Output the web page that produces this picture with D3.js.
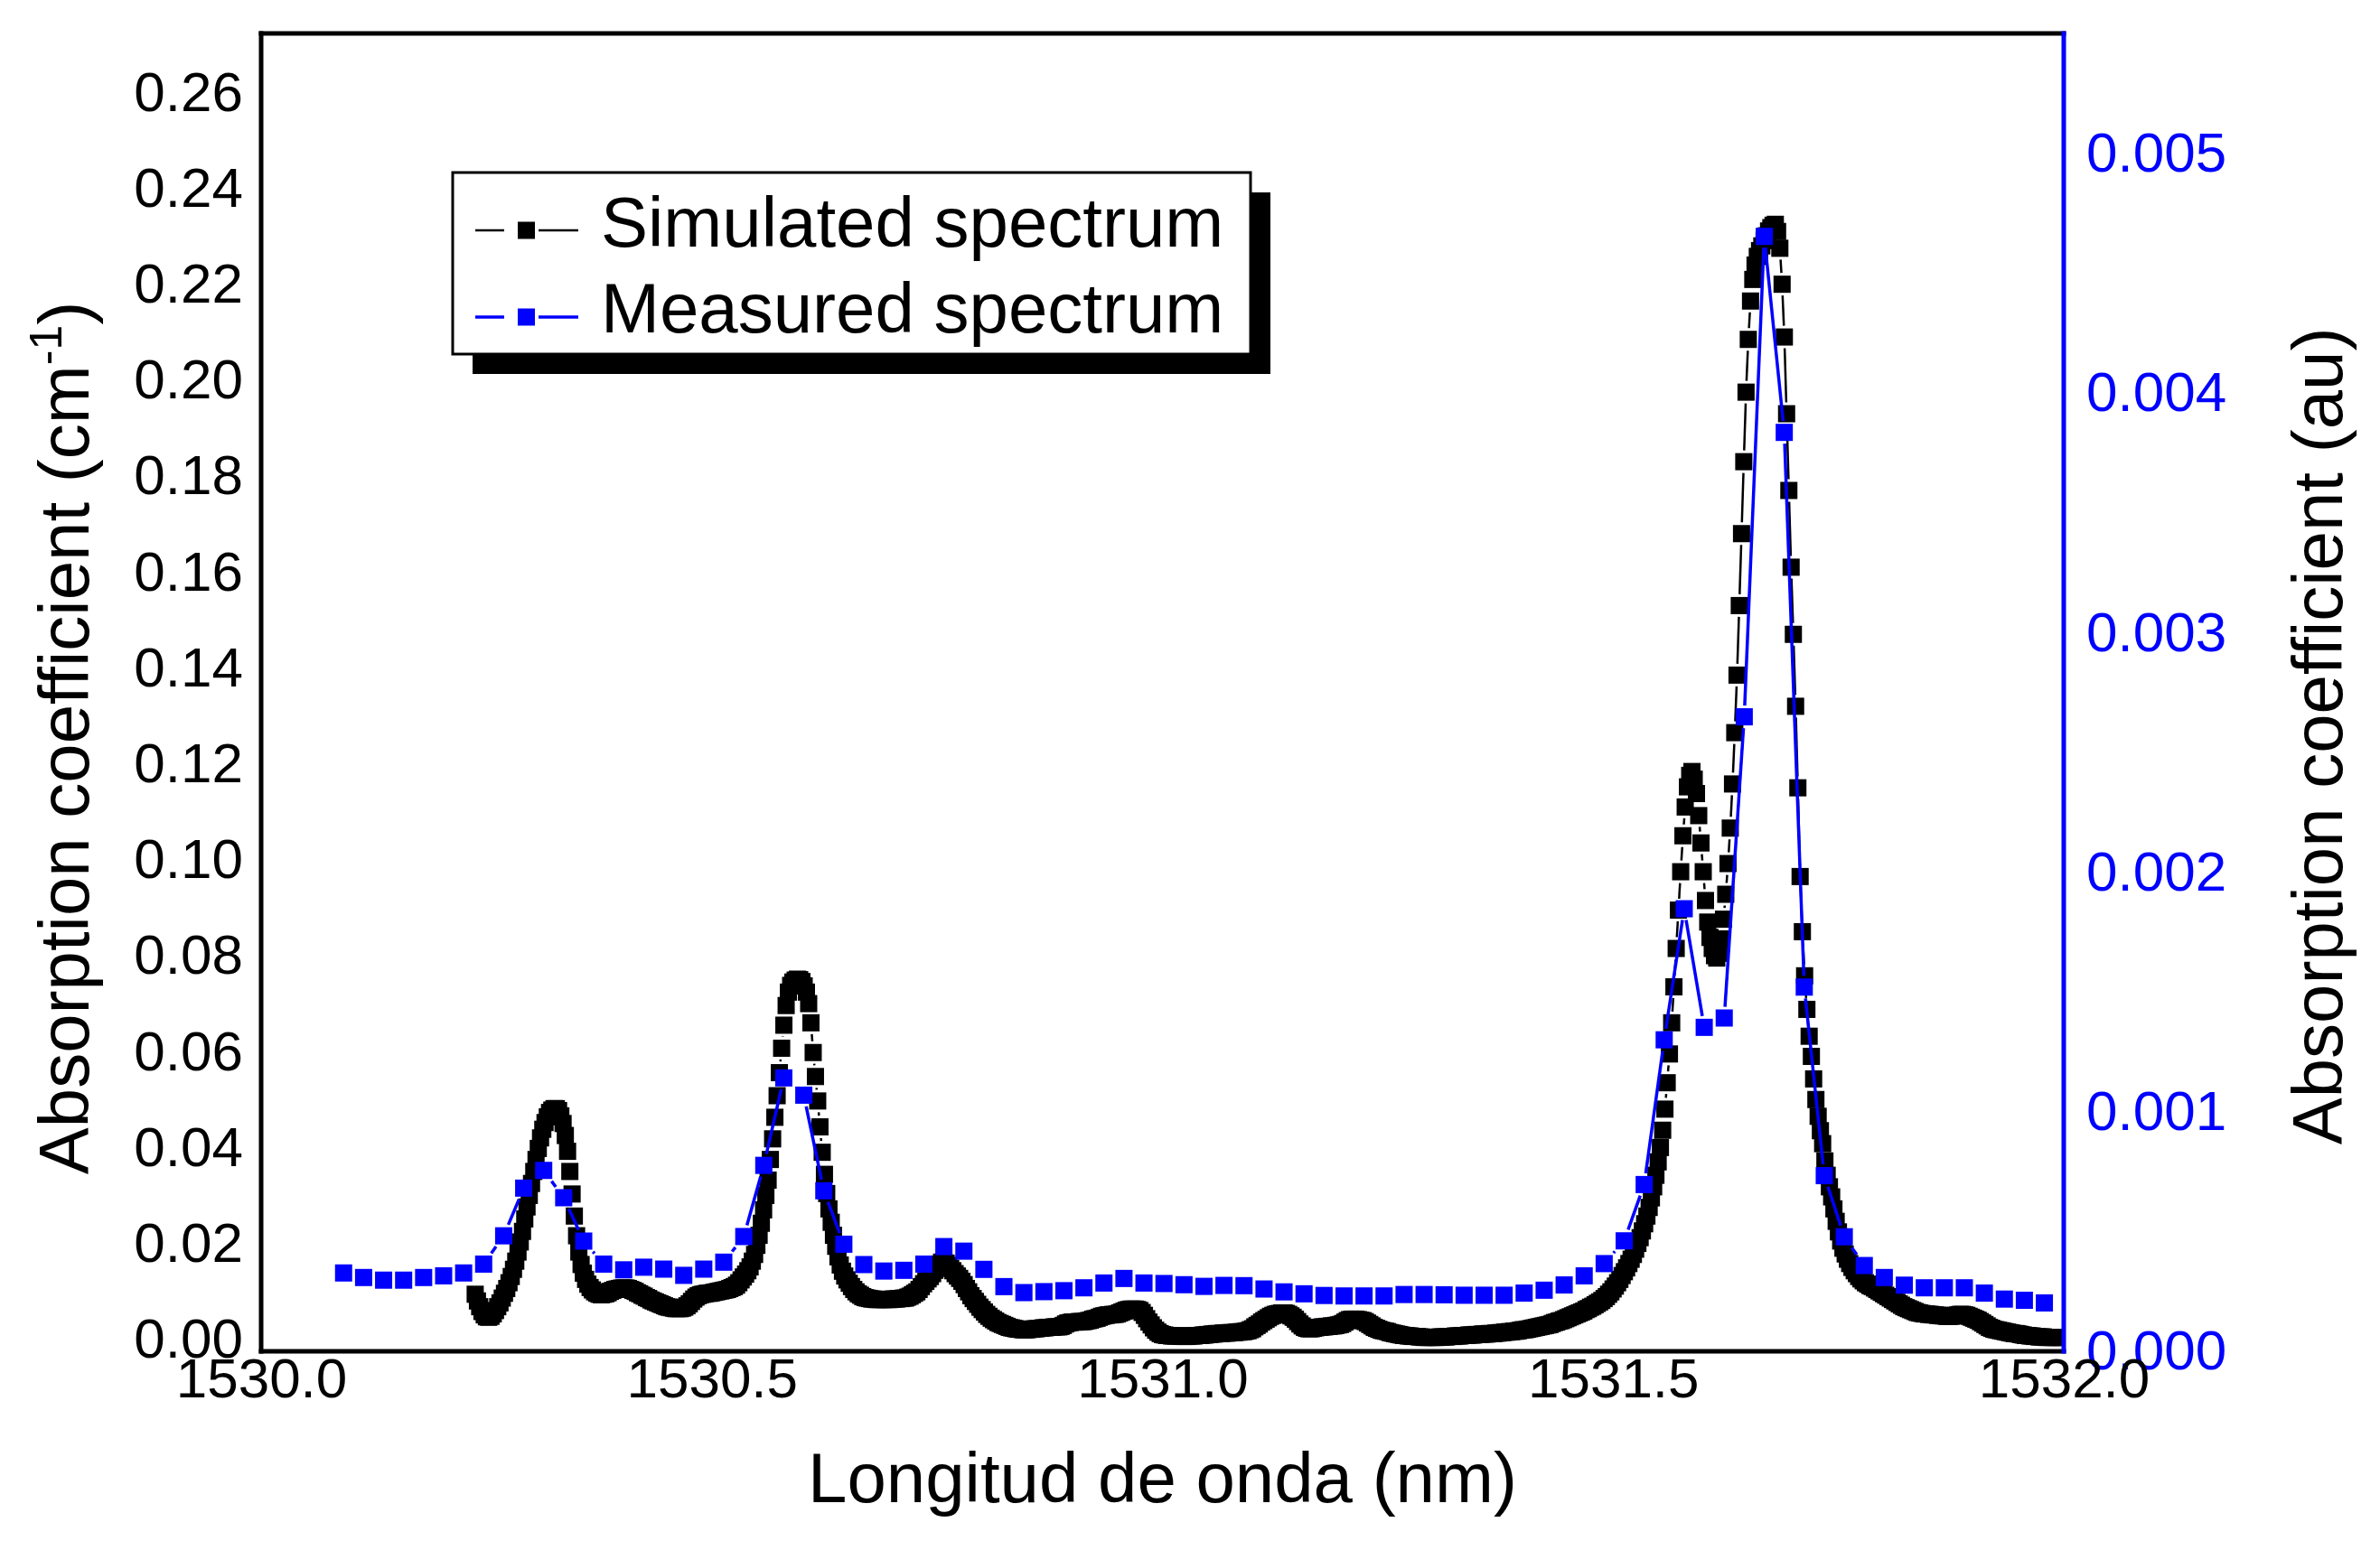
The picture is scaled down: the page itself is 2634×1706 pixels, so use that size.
<!DOCTYPE html>
<html>
<head>
<meta charset="utf-8">
<script src="https://cdn.jsdelivr.net/npm/d3@7"></script>
<style>
  body { margin: 0; background: #fff; }
  text { font-family: "Liberation Sans", Arial, sans-serif; }
</style>
</head>
<body>
<svg id="chart"></svg>
<script>
// Tick labels
const leftTicks = [0, 0.02, 0.04, 0.06, 0.08, 0.10, 0.12, 0.14, 0.16, 0.18, 0.20, 0.22, 0.24, 0.26];
const rightTicks = [0, 0.001, 0.002, 0.003, 0.004, 0.005];
const bottomTicks = [1530.0, 1530.5, 1531.0, 1531.5, 1532.0];

// Simulated spectrum (cm-1), sampled every 0.0025 nm from 1530.2375 nm
const simStart = 1530.2375;
const simStep = 0.0025;
const simValues = [
  0.0094, 0.0080, 0.0068, 0.0058, 0.0051, 0.0047, 0.0046, 0.0048, 0.0053, 0.0060,
  0.0068, 0.0076, 0.0086, 0.0096, 0.0106, 0.0118, 0.0131, 0.0146, 0.0163, 0.0182,
  0.0203, 0.0225, 0.0251, 0.0276, 0.0300, 0.0325, 0.0350, 0.0375, 0.0398, 0.0420,
  0.0438, 0.0452, 0.0464, 0.0473, 0.0478, 0.0481, 0.0481, 0.0477, 0.0466, 0.0450,
  0.0425, 0.0392, 0.0350, 0.0303, 0.0257, 0.0216, 0.0182, 0.0156, 0.0138, 0.0125,
  0.0115, 0.0108, 0.0103, 0.0099, 0.0096, 0.0094, 0.0093, 0.0094, 0.0095, 0.0097,
  0.0100, 0.0102, 0.0104, 0.0105, 0.0106, 0.0107, 0.0107, 0.0107, 0.0106, 0.0104,
  0.0102, 0.0100, 0.0097, 0.0095, 0.0092, 0.0090, 0.0087, 0.0085, 0.0082, 0.0080,
  0.0078, 0.0076, 0.0074, 0.0072, 0.0070, 0.0068, 0.0067, 0.0066, 0.0065, 0.0064,
  0.0064, 0.0064, 0.0065, 0.0067, 0.0070, 0.0074, 0.0079, 0.0084, 0.0088, 0.0091,
  0.0093, 0.0094, 0.0095, 0.0096, 0.0096, 0.0097, 0.0098, 0.0099, 0.0100, 0.0101,
  0.0102, 0.0103, 0.0104, 0.0106, 0.0108, 0.0110, 0.0113, 0.0118, 0.0124, 0.0130,
  0.0136, 0.0143, 0.0151, 0.0163, 0.0177, 0.0196, 0.0217, 0.0242, 0.0270, 0.0300,
  0.0332, 0.0375, 0.0418, 0.0463, 0.0508, 0.0556, 0.0607, 0.0655, 0.0696, 0.0724,
  0.0738, 0.0745, 0.0749, 0.0751, 0.0750, 0.0746, 0.0737, 0.0724, 0.0700, 0.0660,
  0.0598, 0.0548, 0.0497, 0.0443, 0.0390, 0.0344, 0.0304, 0.0272, 0.0244, 0.0217,
  0.0194, 0.0172, 0.0155, 0.0142, 0.0132, 0.0124, 0.0117, 0.0110, 0.0104, 0.0099,
  0.0095, 0.0092, 0.0089, 0.0087, 0.0086, 0.0085, 0.0084, 0.0084, 0.0083, 0.0083,
  0.0083, 0.0083, 0.0083, 0.0083, 0.0083, 0.0084, 0.0084, 0.0084, 0.0085, 0.0085,
  0.0086, 0.0086, 0.0088, 0.0090, 0.0093, 0.0096, 0.0099, 0.0104, 0.0110, 0.0116,
  0.0121, 0.0126, 0.0131, 0.0137, 0.0144, 0.0151, 0.0157, 0.0161, 0.0162, 0.0159,
  0.0154, 0.0148, 0.0143, 0.0137, 0.0132, 0.0127, 0.0121, 0.0114, 0.0106, 0.0099,
  0.0091, 0.0085, 0.0079, 0.0073, 0.0067, 0.0062, 0.0057, 0.0052, 0.0048, 0.0044,
  0.0041, 0.0038, 0.0035, 0.0033, 0.0031, 0.0029, 0.0027, 0.0025, 0.0024, 0.0023,
  0.0022, 0.0021, 0.0021, 0.0020, 0.0020, 0.0020, 0.0021, 0.0021, 0.0022, 0.0022,
  0.0023, 0.0023, 0.0024, 0.0024, 0.0025, 0.0025, 0.0025, 0.0026, 0.0026, 0.0026,
  0.0027, 0.0029, 0.0032, 0.0034, 0.0035, 0.0036, 0.0036, 0.0036, 0.0037, 0.0037,
  0.0037, 0.0038, 0.0039, 0.0040, 0.0042, 0.0043, 0.0044, 0.0046, 0.0048, 0.0049,
  0.0050, 0.0051, 0.0051, 0.0052, 0.0052, 0.0053, 0.0055, 0.0057, 0.0059, 0.0061,
  0.0062, 0.0063, 0.0063, 0.0063, 0.0062, 0.0060, 0.0056, 0.0050, 0.0043, 0.0036,
  0.0030, 0.0024, 0.0019, 0.0015, 0.0012, 0.0010, 0.0009, 0.0008, 0.0008, 0.0007,
  0.0007, 0.0007, 0.0007, 0.0007, 0.0006, 0.0006, 0.0006, 0.0007, 0.0007, 0.0007,
  0.0008, 0.0008, 0.0008, 0.0009, 0.0009, 0.0010, 0.0010, 0.0011, 0.0011, 0.0012,
  0.0012, 0.0012, 0.0013, 0.0013, 0.0013, 0.0014, 0.0014, 0.0014, 0.0015, 0.0015,
  0.0016, 0.0016, 0.0017, 0.0018, 0.0020, 0.0022, 0.0026, 0.0029, 0.0032, 0.0036,
  0.0039, 0.0042, 0.0045, 0.0048, 0.0050, 0.0052, 0.0053, 0.0054, 0.0055, 0.0055,
  0.0054, 0.0052, 0.0049, 0.0046, 0.0042, 0.0037, 0.0032, 0.0028, 0.0025, 0.0023,
  0.0022, 0.0022, 0.0023, 0.0024, 0.0025, 0.0025, 0.0026, 0.0026, 0.0027, 0.0027,
  0.0028, 0.0028, 0.0029, 0.0030, 0.0031, 0.0033, 0.0036, 0.0039, 0.0041, 0.0042,
  0.0042, 0.0042, 0.0041, 0.0040, 0.0039, 0.0037, 0.0034, 0.0031, 0.0028, 0.0025,
  0.0023, 0.0021, 0.0019, 0.0018, 0.0017, 0.0016, 0.0014, 0.0013, 0.0012, 0.0011,
  0.0010, 0.0009, 0.0008, 0.0008, 0.0007, 0.0007, 0.0006, 0.0006, 0.0006, 0.0005,
  0.0005, 0.0004, 0.0004, 0.0004, 0.0004, 0.0004, 0.0004, 0.0004, 0.0005, 0.0005,
  0.0005, 0.0005, 0.0006, 0.0006, 0.0006, 0.0007, 0.0007, 0.0007, 0.0008, 0.0008,
  0.0008, 0.0009, 0.0009, 0.0009, 0.0010, 0.0010, 0.0010, 0.0011, 0.0011, 0.0011,
  0.0012, 0.0012, 0.0012, 0.0013, 0.0013, 0.0014, 0.0014, 0.0015, 0.0015, 0.0016,
  0.0016, 0.0017, 0.0017, 0.0018, 0.0019, 0.0020, 0.0020, 0.0021, 0.0022, 0.0023,
  0.0024, 0.0025, 0.0026, 0.0027, 0.0028, 0.0029, 0.0030, 0.0031, 0.0033, 0.0035,
  0.0036, 0.0038, 0.0039, 0.0041, 0.0043, 0.0045, 0.0047, 0.0049, 0.0051, 0.0053,
  0.0055, 0.0057, 0.0059, 0.0062, 0.0064, 0.0067, 0.0069, 0.0072, 0.0075, 0.0078,
  0.0081, 0.0085, 0.0089, 0.0094, 0.0099, 0.0105, 0.0111, 0.0118, 0.0125, 0.0133,
  0.0141, 0.0149, 0.0158, 0.0167, 0.0177, 0.0188, 0.0200, 0.0212, 0.0226, 0.0241,
  0.0257, 0.0275, 0.0295, 0.0318, 0.0342, 0.0370, 0.0400, 0.0436, 0.0480, 0.0535,
  0.0595, 0.0660, 0.0735, 0.0815, 0.0895, 0.0975, 0.1050, 0.1110, 0.1152, 0.1176,
  0.1184, 0.1168, 0.1138, 0.1092, 0.1035, 0.0975, 0.0915, 0.0870, 0.0838, 0.0815,
  0.0800, 0.0795, 0.0805, 0.0835, 0.0876, 0.0928, 0.0992, 0.1066, 0.1158, 0.1265,
  0.1385, 0.1530, 0.1680, 0.1830, 0.1975, 0.2085, 0.2165, 0.2210, 0.2240, 0.2258,
  0.2270, 0.2280, 0.2291, 0.2301, 0.2311, 0.2318, 0.2323, 0.2325, 0.2310, 0.2275,
  0.2200, 0.2090, 0.1930, 0.1770, 0.1610, 0.1470, 0.1320, 0.1150, 0.0965, 0.0850,
  0.0758, 0.0688, 0.0632, 0.0590, 0.0543, 0.0500, 0.0465, 0.0435, 0.0408, 0.0372,
  0.0342, 0.0318, 0.0297, 0.0272, 0.0246, 0.0224, 0.0205, 0.0190, 0.0178, 0.0167,
  0.0158, 0.0150, 0.0143, 0.0137, 0.0131, 0.0126, 0.0122, 0.0118, 0.0115, 0.0112,
  0.0110, 0.0107, 0.0104, 0.0101, 0.0098, 0.0095, 0.0092, 0.0089, 0.0086, 0.0083,
  0.0080, 0.0077, 0.0074, 0.0071, 0.0068, 0.0066, 0.0064, 0.0062, 0.0060, 0.0058,
  0.0056, 0.0055, 0.0054, 0.0053, 0.0053, 0.0052, 0.0052, 0.0051, 0.0051, 0.0050,
  0.0050, 0.0049, 0.0049, 0.0048, 0.0048, 0.0048, 0.0049, 0.0050, 0.0051, 0.0052,
  0.0052, 0.0051, 0.0050, 0.0048, 0.0046, 0.0044, 0.0042, 0.0040, 0.0037, 0.0034,
  0.0031, 0.0028, 0.0025, 0.0023, 0.0021, 0.0020, 0.0019, 0.0018, 0.0017, 0.0016,
  0.0015, 0.0014, 0.0013, 0.0012, 0.0012, 0.0011, 0.0010, 0.0009, 0.0008, 0.0008,
  0.0007, 0.0007, 0.0006, 0.0006, 0.0005, 0.0005, 0.0005, 0.0004, 0.0004, 0.0004,
  0.0004, 0.0004, 0.0004, 0.0004, 0.0004, 0.0004
];

// Measured spectrum (au)
const measuredWl = [
  1530.0915, 1530.1137, 1530.1359, 1530.1581, 1530.1803, 1530.2025, 1530.2247, 1530.2469, 1530.2691, 1530.2913,
  1530.3135, 1530.3357, 1530.3579, 1530.3801, 1530.4023, 1530.4245, 1530.4467, 1530.4689, 1530.4911, 1530.5133,
  1530.5355, 1530.5577, 1530.5799, 1530.6021, 1530.6243, 1530.6465, 1530.6687, 1530.6909, 1530.7131, 1530.7353,
  1530.7575, 1530.7797, 1530.8019, 1530.8241, 1530.8463, 1530.8685, 1530.8907, 1530.9129, 1530.9351, 1530.9573,
  1530.9795, 1531.0017, 1531.0239, 1531.0461, 1531.0683, 1531.0905, 1531.1127, 1531.1349, 1531.1571, 1531.1793,
  1531.2015, 1531.2237, 1531.2459, 1531.2681, 1531.2903, 1531.3125, 1531.3347, 1531.3569, 1531.3791, 1531.4013,
  1531.4235, 1531.4457, 1531.4679, 1531.4901, 1531.5123, 1531.5345, 1531.5567, 1531.5789, 1531.6011, 1531.6233,
  1531.6455, 1531.6677, 1531.6899, 1531.7121, 1531.7343, 1531.7565, 1531.7787, 1531.8009, 1531.8231, 1531.8453,
  1531.8675, 1531.8897, 1531.9119, 1531.9341, 1531.9563, 1531.9785
];
const measuredValues = [
  0.000327, 0.000308, 0.000297, 0.000297, 0.000308, 0.000315, 0.000327, 0.000364, 0.000482, 0.000681,
  0.000755, 0.000641, 0.000460, 0.000364, 0.000340, 0.000351, 0.000343, 0.000317, 0.000343, 0.000372,
  0.000479, 0.000776, 0.001141, 0.001069, 0.000670, 0.000447, 0.000362, 0.000335, 0.000338, 0.000364,
  0.000437, 0.000418, 0.000342, 0.000270, 0.000245, 0.000249, 0.000253, 0.000265, 0.000285, 0.000304,
  0.000285, 0.000283, 0.000278, 0.000271, 0.000275, 0.000274, 0.000260, 0.000248, 0.000240, 0.000233,
  0.000231, 0.000231, 0.000231, 0.000237, 0.000237, 0.000236, 0.000234, 0.000234, 0.000234, 0.000243,
  0.000255, 0.000277, 0.000315, 0.000366, 0.000461, 0.000696, 0.001300, 0.001847, 0.001352, 0.001391,
  0.002648, 0.004653, 0.003835, 0.001520, 0.000733, 0.000478, 0.000358, 0.000308, 0.000276, 0.000265,
  0.000265, 0.000265, 0.000243, 0.000218, 0.000213, 0.000202
];

const seriesNames = ['Simulated spectrum', 'Measured spectrum'];

const W = 2634, H = 1706;
const plot = { left: 289, right: 2284, top: 37, bottom: 1496 };
const BLUE = '#0000ff';
const FONT = '"Liberation Sans", Arial, sans-serif';
const MARK = 19; // square symbol size

const svg = d3.select('#chart').attr('width', W).attr('height', H);
svg.append('rect').attr('width', W).attr('height', H).attr('fill', '#fff');

const x = d3.scaleLinear().domain([1530, 1532]).range([plot.left, plot.right]);
const yLeft = d3.scaleLinear().domain([-0.0025, 0.2723]).range([plot.bottom, plot.top]);
const yRight = d3.scaleLinear().domain([0, 0.0055]).range([plot.bottom, plot.top]);

svg.append('defs').append('clipPath').attr('id', 'plotClip')
  .append('rect')
  .attr('x', plot.left).attr('y', plot.top)
  .attr('width', plot.right - plot.left).attr('height', plot.bottom - plot.top);

const simPts = simValues.map((v, i) => ({ x: x(simStart + i * simStep), y: yLeft(v) }));
const measPts = measuredWl.map((w, i) => ({ x: x(w), y: yRight(measuredValues[i]) }));

// Origin-style connecting line: segments stop short of each symbol
function gappedSegments(pts, half, gap) {
  const segs = [];
  for (let i = 0; i < pts.length - 1; i++) {
    const p = pts[i], q = pts[i + 1];
    const dx = q.x - p.x, dy = q.y - p.y;
    const len = Math.hypot(dx, dy);
    if (len === 0) continue;
    const ux = dx / len, uy = dy / len;
    const t = half / Math.max(Math.abs(ux), Math.abs(uy)) + gap;
    if (len <= 2 * t) continue;
    segs.push([p.x + ux * t, p.y + uy * t, q.x - ux * t, q.y - uy * t]);
  }
  return segs;
}

const plotG = svg.append('g').attr('clip-path', 'url(#plotClip)');

function drawSeries(pts, color, lineWidth) {
  const g = plotG.append('g');
  g.selectAll('line')
    .data(gappedSegments(pts, MARK / 2, 3))
    .enter().append('line')
    .attr('x1', d => d[0]).attr('y1', d => d[1])
    .attr('x2', d => d[2]).attr('y2', d => d[3])
    .attr('stroke', color).attr('stroke-width', lineWidth);
  g.selectAll('rect')
    .data(pts)
    .enter().append('rect')
    .attr('x', d => d.x - MARK / 2).attr('y', d => d.y - MARK / 2)
    .attr('width', MARK).attr('height', MARK)
    .attr('fill', color);
}

drawSeries(simPts, '#000', 2.5);
drawSeries(measPts, BLUE, 3.5);

// Axes (labels only, frame drawn separately)
const leftAxis = svg.append('g')
  .attr('transform', `translate(${plot.left},0)`)
  .call(d3.axisLeft(yLeft).tickValues(leftTicks).tickSize(0).tickPadding(20).tickFormat(d3.format('.2f')));
const rightAxis = svg.append('g')
  .attr('transform', `translate(${plot.right},0)`)
  .call(d3.axisRight(yRight).tickValues(rightTicks).tickSize(0).tickPadding(25).tickFormat(d3.format('.3f')));
const bottomAxis = svg.append('g')
  .attr('transform', `translate(0,${plot.bottom})`)
  .call(d3.axisBottom(x).tickValues(bottomTicks).tickSize(0).tickPadding(7).tickFormat(d3.format('.1f')));

[leftAxis, rightAxis, bottomAxis].forEach(a => {
  a.select('.domain').remove();
  a.attr('font-size', 62).attr('font-family', FONT);
});
leftAxis.selectAll('text').attr('fill', '#000');
bottomAxis.selectAll('text').attr('fill', '#000');
rightAxis.selectAll('text').attr('fill', BLUE);

// Frame
const frame = svg.append('g').attr('stroke-width', 5).attr('stroke-linecap', 'square');
frame.append('line').attr('x1', plot.left).attr('y1', plot.top).attr('x2', plot.right).attr('y2', plot.top).attr('stroke', '#000');
frame.append('line').attr('x1', plot.left).attr('y1', plot.top).attr('x2', plot.left).attr('y2', plot.bottom).attr('stroke', '#000');
frame.append('line').attr('x1', plot.left).attr('y1', plot.bottom).attr('x2', plot.right).attr('y2', plot.bottom).attr('stroke', '#000');
frame.append('line').attr('x1', plot.right).attr('y1', plot.top).attr('x2', plot.right).attr('y2', plot.bottom).attr('stroke', BLUE);

// Axis titles
svg.append('text')
  .attr('x', (plot.left + plot.right) / 2).attr('y', 1663)
  .attr('text-anchor', 'middle').attr('font-size', 78).attr('fill', '#000')
  .text('Longitud de onda (nm)');

const leftTitle = svg.append('text')
  .attr('transform', 'translate(98,817) rotate(-90)')
  .attr('text-anchor', 'middle').attr('font-size', 78).attr('fill', '#000');
leftTitle.append('tspan').text('Absorption coefficient (cm');
leftTitle.append('tspan').attr('font-size', 50).attr('dy', -30).text('-1');
leftTitle.append('tspan').attr('dy', 30).text(')');

svg.append('text')
  .attr('transform', 'translate(2592,815) rotate(-90)')
  .attr('text-anchor', 'middle').attr('font-size', 78).attr('fill', '#000')
  .text('Absorption coefficient (au)');

// Legend
const legend = svg.append('g');
const box = { x: 501, y: 191, w: 883, h: 201 };
legend.append('rect').attr('x', box.x + 22).attr('y', box.y + 22).attr('width', box.w).attr('height', box.h).attr('fill', '#000');
legend.append('rect').attr('x', box.x).attr('y', box.y).attr('width', box.w).attr('height', box.h)
  .attr('fill', '#fff').attr('stroke', '#000').attr('stroke-width', 3);

const legendRows = [
  { name: seriesNames[0], color: '#000', lw: 2.5, ly: 255, ty: 273 },
  { name: seriesNames[1], color: BLUE, lw: 3.5, ly: 351, ty: 368 }
];
legendRows.forEach(r => {
  legend.append('line').attr('x1', 526).attr('x2', 558).attr('y1', r.ly).attr('y2', r.ly)
    .attr('stroke', r.color).attr('stroke-width', r.lw);
  legend.append('line').attr('x1', 596).attr('x2', 640).attr('y1', r.ly).attr('y2', r.ly)
    .attr('stroke', r.color).attr('stroke-width', r.lw);
  legend.append('rect').attr('x', 573).attr('y', r.ly - MARK / 2).attr('width', MARK).attr('height', MARK)
    .attr('fill', r.color);
  legend.append('text').attr('x', 665).attr('y', r.ty).attr('font-size', 78).attr('fill', '#000')
    .text(r.name);
});
</script>
</body>
</html>
